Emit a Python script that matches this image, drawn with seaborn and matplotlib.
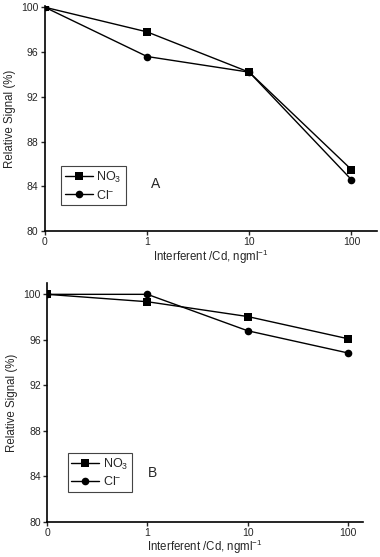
import pandas as pd
import seaborn as sns
import matplotlib.pyplot as plt

conc = ['0', '1', '10', '100']
a_no3 = [100, 97.8, 94.2, 85.5]
a_cl = [100, 95.6, 94.2, 84.6]
b_no3 = [100, 99.35, 98.05, 96.1]
b_cl = [100, 100, 96.8, 94.85]
yticks = [80, 84, 88, 92, 96, 100]

sns.set_theme(style="ticks")
plt.rcParams['font.family'] = ['Liberation Sans', 'DejaVu Sans']
plt.rcParams['mathtext.fontset'] = 'custom'
plt.rcParams['mathtext.rm'] = 'Liberation Sans'
plt.rcParams['mathtext.it'] = 'Liberation Sans'

fig = plt.figure(figsize=(3.8, 5.57), dpi=100)
axA = fig.add_axes([0.118, 0.585, 0.874, 0.404])
axB = fig.add_axes([0.124, 0.063, 0.831, 0.429])


def panel(ax, no3, cl, letter, ytop, xright, leg_anchor, letter_pos):
    df = pd.DataFrame({'conc': conc * 2,
                       'signal': no3 + cl,
                       'ion': ['NO$_3$'] * 4 + ['Cl$^{-}$'] * 4})
    sns.lineplot(data=df, x='conc', y='signal', hue='ion', style='ion',
                 markers=['s', 'o'], dashes=False, palette=['black', 'black'],
                 markersize=5.5, linewidth=1, markeredgewidth=0, ax=ax)
    ax.set_xlim(0, xright)
    ax.set_ylim(80, ytop)
    ax.set_yticks(yticks)
    sns.despine(ax=ax)
    for s in ['left', 'bottom']:
        ax.spines[s].set_linewidth(1.2)
        ax.spines[s].set_color('black')
    ax.tick_params(direction='out', length=3, width=1, labelsize=7.5, pad=1.5)
    ax.set_xlabel('Interferent /Cd, ngml$^{-1}$', fontsize=8.3, labelpad=0)
    ax.set_ylabel('Relative Signal (%)', fontsize=8.3, labelpad=4)
    leg = ax.legend(loc='lower left', bbox_to_anchor=leg_anchor, fontsize=9,
                    fancybox=False, framealpha=1, edgecolor='#444444',
                    handlelength=2.2, handletextpad=0.3, borderpad=0.3,
                    labelspacing=0.3, borderaxespad=0)
    leg.get_frame().set_linewidth(0.8)
    ax.text(letter_pos[0], letter_pos[1], letter, transform=ax.transAxes,
            fontsize=10, va='center', ha='left')


panel(axA, a_no3, a_cl, 'A', 100.1, 3.25, (0.05, 0.115), (0.32, 0.21))
panel(axB, b_no3, b_cl, 'B', 101, 3.15, (0.065, 0.125), (0.32, 0.205))

fig.savefig('out.png', dpi=100)
